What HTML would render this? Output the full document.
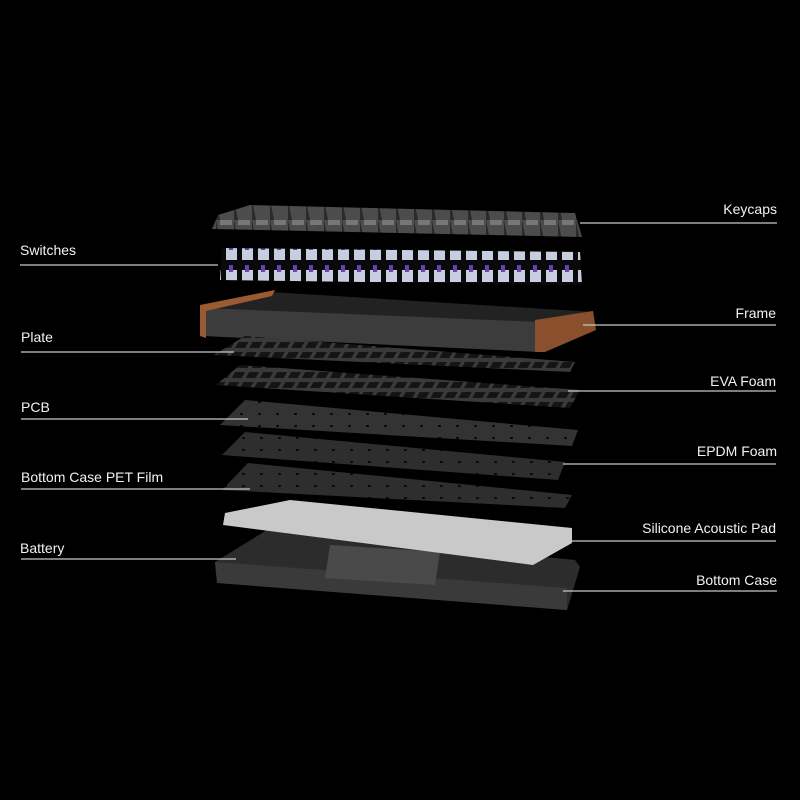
<!DOCTYPE html>
<html><head><meta charset="utf-8"><style>
html,body{margin:0;padding:0;background:#000;}
svg{display:block}
text{font-family:"Liberation Sans",sans-serif;font-size:14px;fill:#f2f2f2}
</style></head><body>
<svg width="800" height="800" viewBox="0 0 800 800" xmlns="http://www.w3.org/2000/svg">
<defs>
<pattern id="holes" width="14" height="10" patternUnits="userSpaceOnUse" patternTransform="skewX(-30)">
<rect width="14" height="10" fill="#3a3a3a"/><rect x="2" y="2" width="10" height="6" fill="#141414"/></pattern>
<pattern id="dots" width="18" height="12" patternUnits="userSpaceOnUse"><rect width="18" height="12" fill="#333"/><rect x="6" y="5" width="3" height="2" fill="#0c0c0c"/></pattern>
<pattern id="dots2" width="18" height="12" patternUnits="userSpaceOnUse"><rect width="18" height="12" fill="#2e2e2e"/><rect x="8" y="5" width="3" height="2" fill="#0c0c0c"/></pattern>
<pattern id="sw" width="16" height="22" patternUnits="userSpaceOnUse"><rect width="16" height="22" fill="#0a0a0a"/><rect x="2" y="6" width="11" height="12" fill="#c8cde0"/><rect x="5" y="1" width="4" height="7" fill="#6a3fb0"/></pattern>
<pattern id="keys" width="18" height="20" patternUnits="userSpaceOnUse"><rect width="18" height="20" fill="#4c4c4c"/><polygon points="0,0 4,20 0,20" fill="#2a2a2a"/><rect x="4" y="0" width="12" height="5" fill="#777"/></pattern>
</defs>
<rect width="800" height="800" fill="#000"/>

<!-- Keycaps -->
<polygon points="250,205 575,213 582,237 212,229 218,215" fill="url(#keys)"/>
<!-- Switches -->
<polygon points="222,248 580,252 582,285 220,280" fill="url(#sw)"/>
<!-- Frame -->
<polygon points="270,292 595,312 540,330 203,313" fill="#222"/>
<polygon points="203,308 540,322 540,352 203,336" fill="#3c3c3c"/>
<polygon points="200,305 275,290 272,296 206,311 206,338 200,336" fill="#9a5a32"/>
<polygon points="535,320 593,311 596,330 545,352 535,352" fill="#8a4f2c"/>
<!-- Plate -->
<polygon points="245,336 575,362 570,372 214,355" fill="url(#holes)"/>
<!-- EVA -->
<polygon points="240,365 580,390 570,408 216,385" fill="url(#holes)"/>
<!-- PCB -->
<polygon points="245,400 578,430 572,446 220,425" fill="url(#dots)"/>
<!-- EPDM -->
<polygon points="245,432 565,462 558,480 222,455" fill="url(#dots2)"/>
<!-- PET -->
<polygon points="248,463 572,495 565,508 222,490" fill="url(#dots2)"/>
<!-- Bottom case -->
<polygon points="267,530 575,560 580,567 567,610 217,583 215,562" fill="#2c2c2c"/>
<polygon points="215,562 567,588 567,610 217,583" fill="#3a3a3a"/>
<polygon points="330,545 440,552 435,585 325,578" fill="#4a4a4a"/>
<!-- Silicone -->
<polygon points="225,513 290,500 572,528 572,543 533,565 223,525" fill="#c9c9c9"/>

<!-- Leader lines -->
<g stroke="#c8c8c8" stroke-width="1.3">
<line x1="580" y1="223" x2="777" y2="223"/>
<line x1="20" y1="265" x2="218" y2="265"/>
<line x1="583" y1="325" x2="776" y2="325"/>
<line x1="21" y1="352" x2="234" y2="352"/>
<line x1="568" y1="391" x2="776" y2="391"/>
<line x1="21" y1="419" x2="248" y2="419"/>
<line x1="563" y1="464" x2="776" y2="464"/>
<line x1="21" y1="489" x2="250" y2="489"/>
<line x1="563" y1="541" x2="776" y2="541"/>
<line x1="21" y1="559" x2="236" y2="559"/>
<line x1="563" y1="591" x2="777" y2="591"/>
</g>
<g>
<text x="777" y="214" text-anchor="end">Keycaps</text>
<text x="20" y="255">Switches</text>
<text x="776" y="318" text-anchor="end">Frame</text>
<text x="21" y="342">Plate</text>
<text x="776" y="386" text-anchor="end">EVA Foam</text>
<text x="21" y="412">PCB</text>
<text x="777" y="456" text-anchor="end">EPDM Foam</text>
<text x="21" y="482">Bottom Case PET Film</text>
<text x="776" y="533" text-anchor="end">Silicone Acoustic Pad</text>
<text x="20" y="553">Battery</text>
<text x="777" y="585" text-anchor="end">Bottom Case</text>
</g>
</svg>
</body></html>
